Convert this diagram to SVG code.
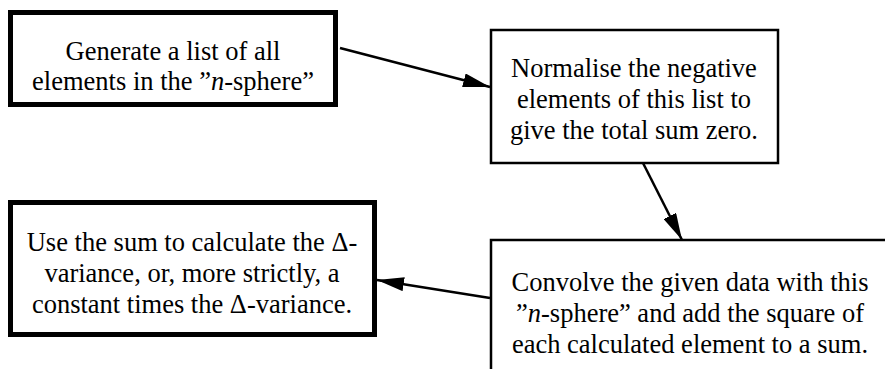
<svg xmlns="http://www.w3.org/2000/svg" width="885" height="369" viewBox="0 0 885 369">
<defs>
<style>
.box{fill:#fff;stroke:#000}
.thick{stroke-width:5}
.thin{stroke-width:2.5}
.t{font-family:'Liberation Serif','Times New Roman',serif;font-size:26.5px;fill:#000;text-anchor:middle}
.it{font-style:italic}
.edge{stroke:#000;stroke-width:2.5;fill:none;marker-end:url(#ah)}
</style>
<marker id="ah" viewBox="0 0 27 14" refX="27" refY="7" markerWidth="27" markerHeight="14" orient="auto" markerUnits="userSpaceOnUse">
<path d="M0,0 L27,7 L0,14 z" fill="#000"/>
</marker>
</defs>
<rect width="885" height="369" fill="#fff"/>
<g id="connectors">
<line class="edge" x1="340" y1="48" x2="490" y2="87"/>
<line class="edge" x1="643" y1="163" x2="682" y2="240"/>
<line class="edge" x1="490" y1="298" x2="377" y2="280"/>
</g>
<g id="node1">
<rect class="box thick" x="10.5" y="12.5" width="325" height="92"/>
<text class="t" x="173" y="60">Generate a list of all</text>
<text class="t" x="173" y="90">elements in the ”<tspan class="it">n</tspan>-sphere”</text>
</g>
<g id="node2">
<rect class="box thin" x="491" y="30" width="287" height="133"/>
<text class="t" x="634" y="77">Normalise the negative</text>
<text class="t" x="634" y="108">elements of this list to</text>
<text class="t" x="634" y="139">give the total sum zero.</text>
</g>
<g id="node3">
<rect class="box thick" x="10.5" y="202.5" width="364" height="132"/>
<text class="t" x="192" y="251">Use the sum to calculate the Δ-</text>
<text class="t" x="192" y="282">variance, or, more strictly, a</text>
<text class="t" x="192" y="313">constant times the Δ-variance.</text>
</g>
<g id="node4">
<rect class="box thin" x="491" y="240" width="420" height="160"/>
<text class="t" x="690" y="291">Convolve the given data with this</text>
<text class="t" x="690" y="322">”<tspan class="it">n</tspan>-sphere” and add the square of</text>
<text class="t" x="690" y="353">each calculated element to a sum.</text>
</g>
</svg>
